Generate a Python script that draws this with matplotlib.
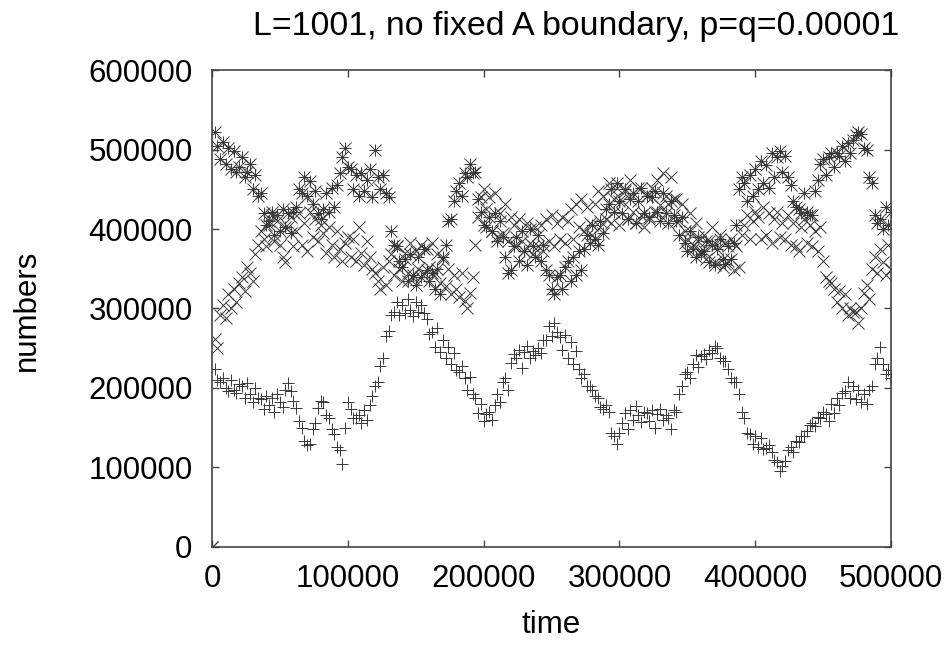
import numpy as np
import matplotlib
matplotlib.use('Agg')
import matplotlib.pyplot as plt

plt.rcParams['font.family'] = ['Liberation Sans', 'DejaVu Sans']

# sampled every 2000 time steps, values in thousands
time = np.arange(0, 500001, 2000)

numbers_plus = [0,
    224, 210, 208, 212, 200, 196, 210, 198, 194, 205,
    202, 188, 206, 192, 183, 200, 188, 186, 174, 190,
    178, 188, 170, 192, 182, 176, 198, 206, 196, 184,
    175, 158, 150, 133, 128, 130, 148, 156, 175, 184,
    182, 166, 162, 148, 142, 126, 122, 104, 150, 182,
    174, 162, 162, 166, 156, 172, 160, 178, 190, 202,
    208, 228, 238, 265, 272, 292, 296, 308, 292, 304,
    294, 312, 298, 290, 308, 296, 304, 294, 287, 268,
    270, 252, 275, 245, 260, 238, 252, 230, 244, 222,
    220, 228, 212, 198, 214, 192, 188, 168, 180, 158,
    167, 170, 160, 178, 192, 183, 207, 213, 198, 232,
    243, 238, 248, 225, 245, 253, 238, 246, 242, 250,
    244, 260, 260, 278, 266, 282, 270, 264, 248, 267,
    238, 258, 230, 247, 224, 212, 218, 202, 203, 197,
    190, 188, 176, 174, 178, 170, 143, 140, 130, 144,
    156, 168, 148, 172, 160, 177, 166, 157, 170, 168,
    158, 172, 150, 167, 173, 160, 166, 162, 148, 172,
    170, 192, 203, 218, 220, 212, 230, 242, 226, 240,
    243, 237, 248, 244, 253, 250, 238, 234, 234, 224,
    213, 207, 208, 192, 170, 162, 143, 142, 130, 140,
    126, 137, 123, 124, 128, 120, 110, 107, 95, 102,
    108, 122, 126, 120, 133, 132, 140, 140, 146, 154,
    156, 152, 163, 162, 170, 167, 158, 180, 168, 187,
    178, 194, 196, 207, 188, 202, 186, 197, 183, 192,
    180, 197, 203, 230, 238, 252, 230, 217, 223, 212]

numbers_cross = [0,
    262, 250, 292, 305, 288, 318, 300, 325, 308, 332,
    340, 322, 352, 345, 335, 368, 380, 398, 388, 378,
    405, 418, 385, 410, 380, 365, 358, 402, 415, 378,
    398, 420, 380, 408, 372, 422, 390, 412, 385, 405,
    395, 370, 402, 380, 365, 398, 375, 360, 382, 390,
    365, 388, 360, 402, 370, 355, 385, 365, 350, 345,
    335, 325, 352, 330, 360, 368, 342, 378, 350, 335,
    370, 345, 382, 338, 372, 350, 380, 345, 375, 352,
    382, 345, 368, 332, 362, 328, 350, 318, 342, 325,
    315, 345, 310, 300, 320, 340, 380, 415, 440, 450,
    425, 440, 398, 445, 390, 420, 395, 432, 385, 415,
    405, 378, 412, 385, 372, 408, 382, 368, 402, 378,
    405, 372, 412, 385, 418, 378, 408, 388, 415, 382,
    410, 425, 388, 432, 402, 438, 398, 428, 408, 392,
    432, 448, 402, 442, 412, 458, 408, 438, 452, 405,
    435, 448, 412, 462, 422, 408, 452, 418, 402, 442,
    412, 452, 422, 462, 430, 470, 442, 432, 465, 438,
    438, 410, 432, 398, 388, 420, 380, 408, 385, 372,
    392, 362, 385, 402, 358, 380, 392, 352, 382, 360,
    388, 348, 378, 352, 392, 405, 418, 388, 410, 422,
    415, 388, 428, 392, 420, 382, 412, 422, 390, 408,
    388, 418, 380, 408, 378, 372, 402, 412, 382, 405,
    378, 398, 372, 402, 360, 340, 335, 332, 325, 308,
    322, 300, 318, 292, 300, 296, 295, 282, 300, 320,
    330, 312, 350, 365, 345, 375, 358, 342, 380, 350]

numbers_star = [0,
    522, 505, 488, 510, 482, 502, 475, 498, 472, 478,
    490, 465, 472, 482, 450, 468, 442, 445, 420, 405,
    410, 422, 392, 418, 398, 425, 402, 420, 395, 422,
    428, 450, 445, 465, 442, 460, 432, 448, 420, 412,
    425, 445, 422, 452, 428, 455, 470, 490, 502, 478,
    475, 450, 468, 442, 470, 448, 462, 475, 440, 500,
    465, 450, 468, 445, 440, 398, 380, 378, 360, 352,
    362, 335, 368, 342, 330, 365, 340, 375, 348, 335,
    345, 325, 350, 318, 365, 380, 410, 412, 435, 448,
    458, 442, 470, 465, 482, 470, 472, 438, 422, 405,
    402, 415, 398, 420, 385, 410, 390, 365, 345, 348,
    378, 390, 360, 398, 372, 355, 400, 378, 365, 392,
    360, 380, 348, 342, 325, 318, 340, 342, 325, 352,
    360, 335, 365, 342, 372, 348, 375, 392, 382, 405,
    388, 380, 410, 395, 425, 432, 450, 422, 458, 435,
    420, 450, 412, 438, 445, 408, 435, 452, 420, 442,
    415, 440, 448, 422, 410, 445, 420, 408, 435, 418,
    410, 392, 415, 382, 372, 398, 375, 365, 390, 368,
    372, 385, 358, 380, 355, 375, 388, 362, 356, 378,
    362, 382, 405, 450, 465, 458, 435, 468, 442, 475,
    450, 485, 458, 480, 452, 495, 465, 490, 498, 472,
    492, 465, 455, 435, 428, 425, 420, 445, 422, 418,
    418, 448, 462, 482, 488, 468, 490, 495, 478, 495,
    492, 505, 485, 508, 495, 512, 518, 522, 520, 502,
    500, 465, 458, 418, 408, 412, 400, 428, 405, 422]

plus = np.array(numbers_plus) * 1000
cross = np.array(numbers_cross) * 1000
star = np.array(numbers_star) * 1000

fig = plt.figure(figsize=(9.52, 6.46), dpi=100)
ax = fig.add_axes([0.2227, 0.1533, 0.7133, 0.7383])

mc = '#383838'
ms = 8.5
mw = 0.7
ax.plot(time, plus, linestyle='none', marker='+', ms=ms, mew=mw, color=mc)
ax.plot(time, cross, linestyle='none', marker='x', ms=ms, mew=mw, color=mc)
# gnuplot's '*' point: a plus and a cross on top of each other
ax.plot(time, star, linestyle='none', marker='+', ms=ms, mew=mw, color=mc)
ax.plot(time, star, linestyle='none', marker='x', ms=ms, mew=mw, color=mc)

ax.set_xlim(0, 500000)
ax.set_ylim(0, 600000)
ax.set_xticks(np.arange(0, 500001, 100000))
ax.set_yticks(np.arange(0, 600001, 100000))
ax.tick_params(direction='in', length=5, width=1, colors='#444444',
               labelcolor='black', labelsize=22.5, top=True, right=True)
ax.tick_params(axis='x', pad=12)
ax.tick_params(axis='y', pad=14)
for s in ax.spines.values():
    s.set_linewidth(1.2)
    s.set_color('#444444')

fig.text(576 / 952, 1 - 26 / 646, 'L=1001, no fixed A boundary, p=q=0.00001',
         ha='center', va='center', fontsize=24.4)
fig.text(551 / 952, 1 - 625 / 646, 'time', ha='center', va='center', fontsize=22.5)
fig.text(27 / 952, 1 - 310 / 646, 'numbers', ha='center', va='center',
         rotation=90, fontsize=22.5)

fig.savefig('out.png', dpi=100)
